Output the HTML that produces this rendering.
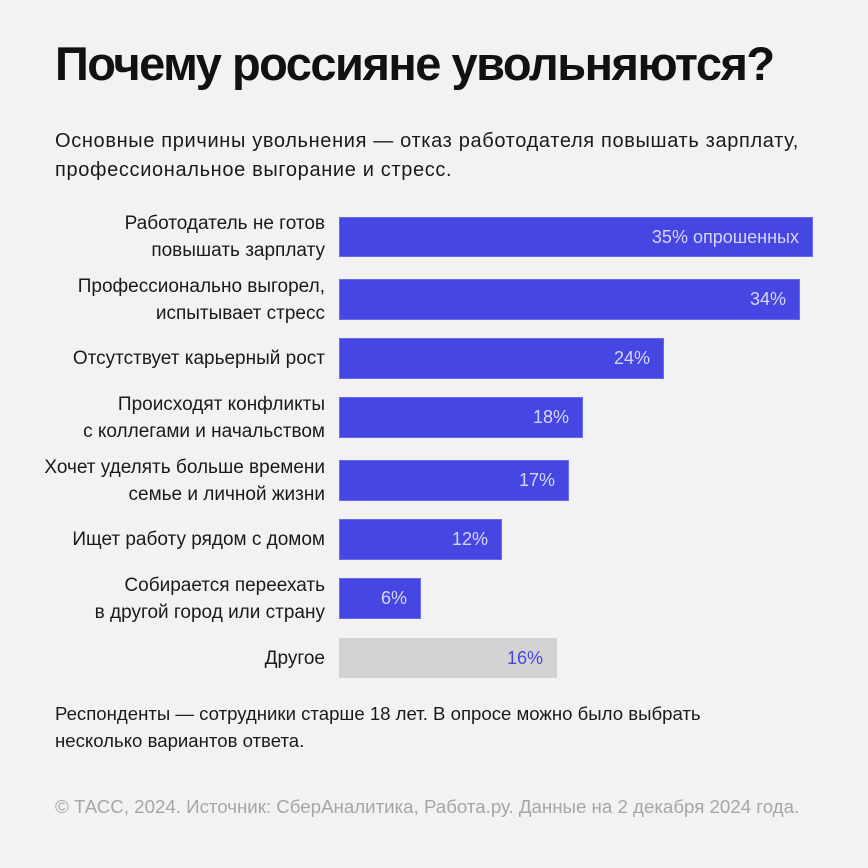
<!DOCTYPE html>
<html><head><meta charset="utf-8"><style>
html,body{margin:0;padding:0}
body{width:868px;height:868px;background:#f2f2f2;position:relative;overflow:hidden;font-family:"Liberation Sans","DejaVu Sans",sans-serif;color:#1a1a1a}
.abs{position:absolute;white-space:nowrap}
h1{position:absolute;left:55px;top:34px;margin:0;font-size:47px;font-weight:bold;line-height:60px;letter-spacing:-1.5px;white-space:nowrap;color:#111}
.sub{left:55px;top:127px;font-size:20px;line-height:29px;letter-spacing:0.65px}
.lab{position:absolute;left:30px;width:295px;display:flex;align-items:center;justify-content:flex-end;text-align:right;font-size:19px;line-height:27px;white-space:nowrap}
.bar{position:absolute;left:339px;background:#4646e3;box-shadow:inset 0 0 0 1px #6a6aee;display:flex;align-items:center;justify-content:flex-end;box-sizing:border-box;padding-right:14px;font-size:18px;color:#d6d6fa;white-space:nowrap}
.gray{background:#d3d3d3;box-shadow:none;color:#4848e2}
.note{left:55px;top:700px;font-size:18.6px;line-height:27px}
.src{left:55px;top:793px;font-size:18.7px;line-height:27px;color:#a6a6a6}
</style></head><body>
<h1>Почему россияне увольняются?</h1>
<div class="abs sub">Основные причины увольнения — отказ работодателя повышать зарплату,<br>профессиональное выгорание и стресс.</div>

<div class="lab" style="top:217px;height:40px">Работодатель не готов<br>повышать зарплату</div>
<div class="bar" style="top:217px;height:40px;width:474px">35% опрошенных</div>

<div class="lab" style="top:279px;height:41px">Профессионально выгорел,<br>испытывает стресс</div>
<div class="bar" style="top:279px;height:41px;width:461px">34%</div>

<div class="lab" style="top:338px;height:41px">Отсутствует карьерный рост</div>
<div class="bar" style="top:338px;height:41px;width:325px">24%</div>

<div class="lab" style="top:397px;height:41px">Происходят конфликты<br>с коллегами и начальством</div>
<div class="bar" style="top:397px;height:41px;width:244px">18%</div>

<div class="lab" style="top:460px;height:41px">Хочет уделять больше времени<br>семье и личной жизни</div>
<div class="bar" style="top:460px;height:41px;width:230px">17%</div>

<div class="lab" style="top:519px;height:41px">Ищет работу рядом с домом</div>
<div class="bar" style="top:519px;height:41px;width:163px">12%</div>

<div class="lab" style="top:578px;height:41px">Собирается переехать<br>в другой город или страну</div>
<div class="bar" style="top:578px;height:41px;width:82px">6%</div>

<div class="lab" style="top:638px;height:40px">Другое</div>
<div class="bar gray" style="top:638px;height:40px;width:218px">16%</div>

<div class="abs note">Респонденты — сотрудники старше 18 лет. В опросе можно было выбрать<br>несколько вариантов ответа.</div>
<div class="abs src">© ТАСС, 2024. Источник: СберАналитика, Работа.ру. Данные на 2 декабря 2024 года.</div>
</body></html>
